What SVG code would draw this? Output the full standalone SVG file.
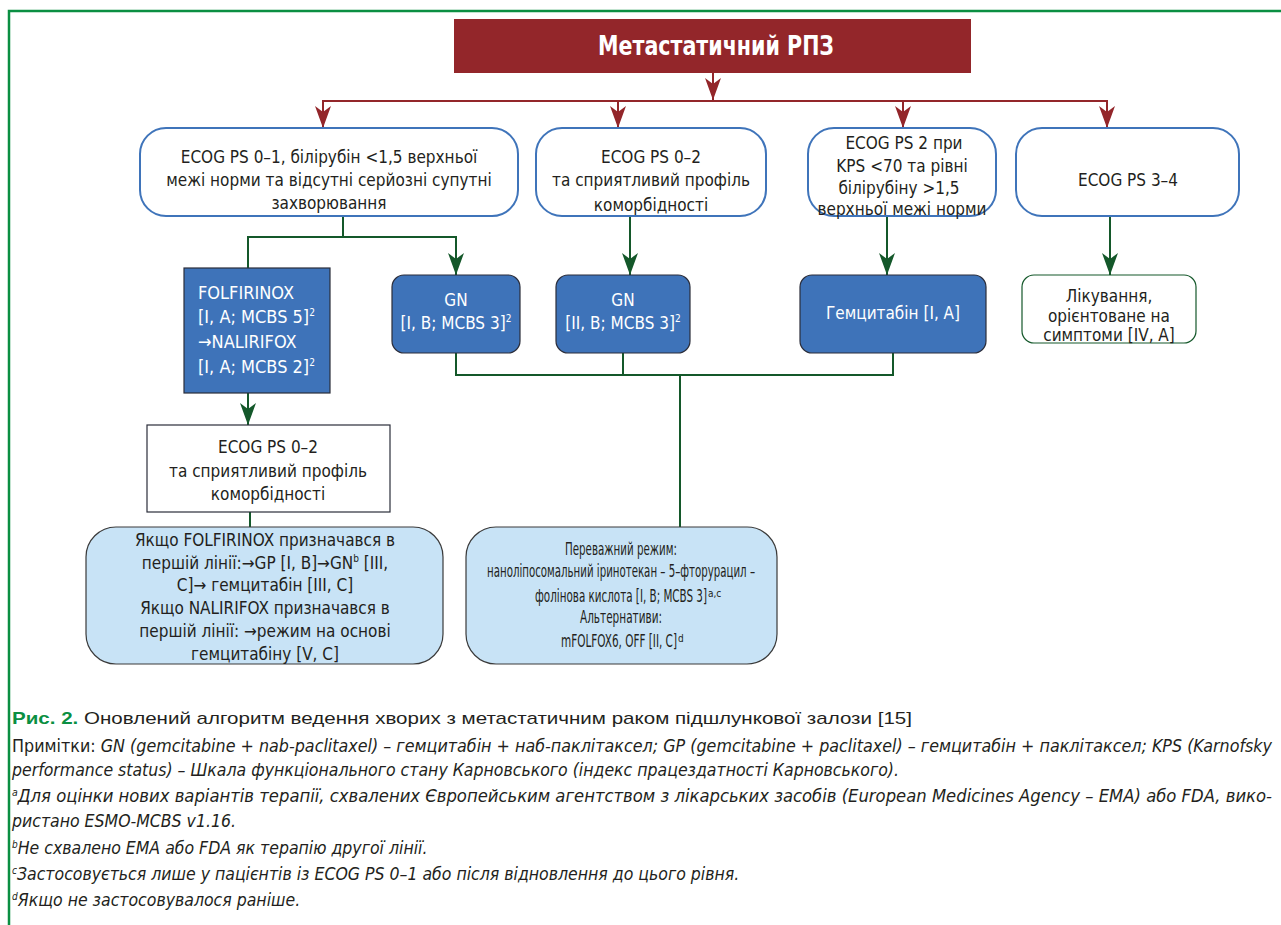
<svg xmlns="http://www.w3.org/2000/svg" width="1281" height="925" viewBox="0 0 1281 925">
<style>
  text { font-family: "Liberation Sans Narrow", "DejaVu Sans Condensed", "Liberation Sans", sans-serif; fill: #231f20; }
  .t { font-size: 17px; text-anchor: middle; }
  .s { font-size: 17px; text-anchor: middle; }
  .w { fill: #ffffff; }
  .title { font-size: 27px; font-weight: bold; fill: #ffffff; text-anchor: middle; }
  .rbox { fill: #ffffff; stroke: #3f74ba; stroke-width: 2; }
  .bbox { fill: #3e73b9; stroke: #2b2d3a; stroke-width: 1.2; }
  .lbox { fill: #c8e3f6; stroke: #3a3a3a; stroke-width: 1.2; }
  .red { fill: none; stroke: #93262a; stroke-width: 2; }
  .grn { fill: none; stroke: #14582a; stroke-width: 2; }
  .cap { font-family: "Liberation Sans", Arial, sans-serif; font-size: 17px; }
  .note { font-size: 17.5px; }
  .it { font-style: italic; }
  .sup { font-size: 10px; }
</style>
<defs>
  <marker id="ar" viewBox="0 0 22 16" refX="22" refY="8" markerWidth="22" markerHeight="16" markerUnits="userSpaceOnUse" orient="auto">
    <path d="M0,0 L22,8 L0,16 L6,8 z" fill="#93262a"/>
  </marker>
  <marker id="ag" viewBox="0 0 22 16" refX="22" refY="8" markerWidth="22" markerHeight="16" markerUnits="userSpaceOnUse" orient="auto">
    <path d="M0,0 L22,8 L0,16 L6,8 z" fill="#14582a"/>
  </marker>
</defs>

<rect width="1281" height="925" fill="#ffffff"/>
<path d="M9,925 V11 H1281" fill="none" stroke="#0a8f42" stroke-width="2.5"/>

<g id="connectors">
  <path class="red" d="M713,73 V100" marker-end="url(#ar)"/>
  <path class="red" d="M322,101 H1108"/>
  <path class="red" d="M323,101 V128" marker-end="url(#ar)"/>
  <path class="red" d="M618,101 V128" marker-end="url(#ar)"/>
  <path class="red" d="M903,101 V128" marker-end="url(#ar)"/>
  <path class="red" d="M1107,101 V128" marker-end="url(#ar)"/>

  <path class="grn" d="M343,216 V237 H248 V268"/>
  <path class="grn" d="M343,237 H456 V275" marker-end="url(#ag)"/>
  <path class="grn" d="M630,216 V275" marker-end="url(#ag)"/>
  <path class="grn" d="M887,216 V275" marker-end="url(#ag)"/>
  <path class="grn" d="M1110,216 V275" marker-end="url(#ag)"/>
  <path class="grn" d="M248,393 V425" marker-end="url(#ag)"/>
  <path class="grn" d="M456,353 V375 H893 V353"/>
  <path class="grn" d="M623,353 V375"/>
  <path class="grn" d="M680,375 V527"/>
  <path class="grn" d="M250,512 V527"/>
</g>

<g id="title">
  <rect x="454" y="19" width="517" height="54" fill="#93262a"/>
  <text class="title" x="716" y="55" textLength="236" lengthAdjust="spacingAndGlyphs">Метастатичний РПЗ</text>
</g>

<g id="ecog01">
  <rect class="rbox" x="140" y="128" width="378" height="88" rx="26"/>
  <text class="t" x="329" y="163">ECOG PS 0–1, білірубін &lt;1,5 верхньої</text>
  <text class="t" x="329" y="186">межі норми та відсутні серйозні супутні</text>
  <text class="t" x="329" y="209">захворювання</text>
</g>

<g id="ecog02">
  <rect class="rbox" x="536" y="128" width="230" height="88" rx="26"/>
  <text class="t" x="651" y="163">ECOG PS 0–2</text>
  <text class="t" x="651" y="186">та сприятливий профіль</text>
  <text class="t" x="651" y="211">коморбідності</text>
</g>

<g id="ecog2">
  <rect class="rbox" x="808" y="128" width="188" height="88" rx="26"/>
  <text class="t" x="904" y="149">ECOG PS 2 при</text>
  <text class="t" x="902" y="172">KPS &lt;70 та рівні</text>
  <text class="t" x="899" y="194">білірубіну &gt;1,5</text>
  <text class="t" x="902" y="215">верхньої межі норми</text>
</g>

<g id="ecog34">
  <rect class="rbox" x="1016" y="128" width="223" height="88" rx="26"/>
  <text class="t" x="1128" y="186">ECOG PS 3–4</text>
</g>

<g id="folfirinox">
  <rect class="bbox" x="184" y="268" width="146" height="125"/>
  <text class="t w" x="198" y="299" style="text-anchor:start;font-size:18px">FOLFIRINOX</text>
  <text class="t w" x="198" y="323" style="text-anchor:start;font-size:18px">[I, A; MCBS 5]<tspan class="sup w" dy="-7">2</tspan></text>
  <text class="t w" x="198" y="348" style="text-anchor:start;font-size:18px">→NALIRIFOX</text>
  <text class="t w" x="198" y="373" style="text-anchor:start;font-size:18px">[I, A; MCBS 2]<tspan class="sup w" dy="-7">2</tspan></text>
</g>

<g id="gn1">
  <rect class="bbox" x="392" y="275" width="128" height="78" rx="12"/>
  <text class="t w" x="456" y="306">GN</text>
  <text class="t w" x="456" y="329">[I, B; MCBS 3]<tspan class="sup w" dy="-7">2</tspan></text>
</g>

<g id="gn2">
  <rect class="bbox" x="556" y="275" width="134" height="78" rx="12"/>
  <text class="t w" x="623" y="306">GN</text>
  <text class="t w" x="623" y="329">[II, B; MCBS 3]<tspan class="sup w" dy="-7">2</tspan></text>
</g>

<g id="gem">
  <rect class="bbox" x="800" y="275" width="186" height="78" rx="12"/>
  <text class="t w" x="893" y="319">Гемцитабін [I, A]</text>
</g>

<g id="symptom">
  <rect x="1022" y="275" width="174" height="68" rx="12" fill="#ffffff" stroke="#14582a" stroke-width="1.2"/>
  <text class="t" x="1109" y="302">Лікування,</text>
  <text class="t" x="1109" y="322">орієнтоване на</text>
  <text class="t" x="1109" y="341">симптоми [IV, A]</text>
</g>

<g id="ecog02b">
  <rect x="147" y="425" width="243" height="87" fill="#ffffff" stroke="#2b2d3a" stroke-width="1.2"/>
  <text class="t" x="268" y="453">ECOG PS 0–2</text>
  <text class="t" x="268" y="477">та сприятливий профіль</text>
  <text class="t" x="268" y="500">коморбідності</text>
</g>

<g id="second-left">
  <rect class="lbox" x="86" y="527" width="357" height="137" rx="30"/>
  <text class="t" x="265" y="546">Якщо FOLFIRINOX призначався в</text>
  <text class="t" x="265" y="569">першій лінії:→GP [I, B]→GN<tspan class="sup" dy="-7">b</tspan><tspan dy="7"> [III,</tspan></text>
  <text class="t" x="265" y="591">C]→ гемцитабін [III, C]</text>
  <text class="t" x="265" y="614">Якщо NALIRIFOX призначався в</text>
  <text class="t" x="265" y="637">першій лінії: →режим на основі</text>
  <text class="t" x="265" y="660">гемцитабіну [V, C]</text>
</g>

<g id="second-right">
  <rect class="lbox" x="466" y="527" width="311" height="137" rx="30"/>
  <text class="s" x="621" y="555" textLength="112" lengthAdjust="spacingAndGlyphs">Переважний режим:</text>
  <text class="s" x="621" y="577" textLength="268" lengthAdjust="spacingAndGlyphs">наноліпосомальний іринотекан – 5–фторурацил  –</text>
  <text class="s" x="621" y="602" textLength="172" lengthAdjust="spacingAndGlyphs">фолінова кислота [I, B; MCBS 3]</text>
  <text class="sup" x="708" y="597">a,c</text>
  <text class="s" x="621" y="623" textLength="82" lengthAdjust="spacingAndGlyphs">Альтернативи:</text>
  <text class="s" x="619" y="647" textLength="116" lengthAdjust="spacingAndGlyphs">mFOLFOX6, OFF [II, C]</text>
  <text class="sup" x="678" y="642">d</text>
</g>

<g id="caption">
  <text class="cap" x="12" y="724" textLength="900" lengthAdjust="spacingAndGlyphs"><tspan font-weight="bold" fill="#0a8f42">Рис. 2.</tspan> Оновлений алгоритм ведення хворих з метастатичним раком підшлункової залози [15]</text>
  <text class="note" x="12" y="752" textLength="1260" lengthAdjust="spacingAndGlyphs">Примітки: <tspan class="it">GN (gemcitabine + nab-paclitaxel) – гемцитабін + наб-паклітаксел; GP (gemcitabine + paclitaxel) – гемцитабін + паклітаксел; KPS (Karnofsky</tspan></text>
  <text class="note it" x="12" y="776">performance status) – Шкала функціонального стану Карновського (індекс працездатності Карновського).</text>
  <text class="note it" x="12" y="802" textLength="1260" lengthAdjust="spacingAndGlyphs"><tspan class="sup" dy="-6">a</tspan><tspan dy="6">Для оцінки нових варіантів терапії, схвалених Європейським агентством з лікарських засобів (European Medicines Agency – EMA) або FDA, вико-</tspan></text>
  <text class="note it" x="12" y="827">ристано ESMO-MCBS v1.16.</text>
  <text class="note it" x="12" y="854"><tspan class="sup" dy="-6">b</tspan><tspan dy="6">Не схвалено EMA або FDA як терапію другої лінії.</tspan></text>
  <text class="note it" x="12" y="880"><tspan class="sup" dy="-6">c</tspan><tspan dy="6">Застосовується лише у пацієнтів із ECOG PS 0–1 або після відновлення до цього рівня.</tspan></text>
  <text class="note it" x="12" y="906"><tspan class="sup" dy="-6">d</tspan><tspan dy="6">Якщо не застосовувалося раніше.</tspan></text>
</g>
</svg>
